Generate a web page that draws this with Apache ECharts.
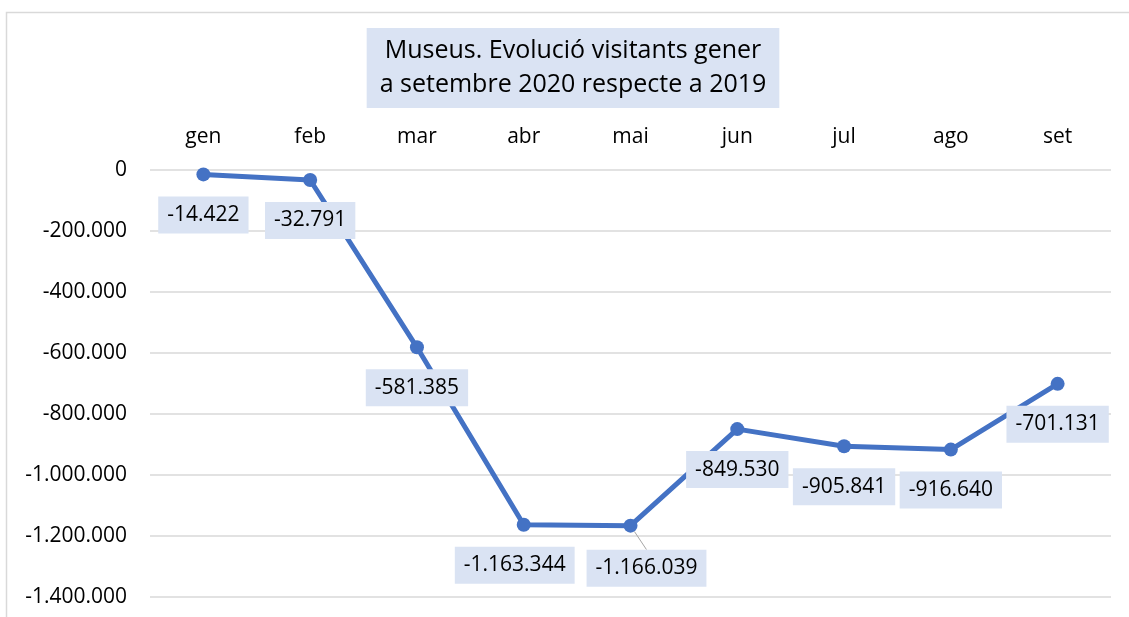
<!DOCTYPE html>
<html>
<head>
<meta charset="utf-8">
<script src="https://cdn.jsdelivr.net/npm/echarts@6/dist/echarts.min.js"></script>
<style>
  html, body { margin: 0; padding: 0; background: #fff; }
  #chart { width: 1129px; height: 617px; }
</style>
</head>
<body>
<div id="chart"></div>
<script>
// Months (Catalan abbreviations)
const months = ['gen', 'feb', 'mar', 'abr', 'mai', 'jun', 'jul', 'ago', 'set'];
// Difference in museum visitors, 2020 vs 2019
const visitorDiff = [-14422, -32791, -581385, -1163344, -1166039, -849530, -905841, -916640, -701131];
// Y axis range
const yMin = -1400000;
const yMax = 0;
const yStep = 200000;

const titleText = 'Museus. Evolució visitants gener\na setembre 2020 respecte a 2019';

const FONT = 'Open Sans';
const LABEL_BG = '#dae3f3';

// Catalan number format: dot as thousands separator
function fmt(v) {
  const s = Math.abs(Math.round(v)).toString().replace(/\B(?=(\d{3})+(?!\d))/g, '.');
  return (v < 0 ? '-' : '') + s;
}

const chart = echarts.init(document.getElementById('chart'), null, { renderer: 'canvas' });

const seriesData = visitorDiff.map((v, i) => {
  const item = { value: v };
  if (i === 4) {
    item.labelLine = { show: true, lineStyle: { color: '#a6a6a6', width: 1 } };
  }
  return item;
});

chart.setOption({
  animation: false,
  backgroundColor: '#fff',
  textStyle: { fontFamily: FONT },
  graphic: [
    {
      // chart frame
      type: 'rect',
      shape: { x: 6.5, y: 12.5, width: 1200, height: 700 },
      style: { fill: 'none', stroke: '#d9d9d9', lineWidth: 1.5 },
      silent: true,
      z: -10
    },
    {
      // title box, lines centred
      type: 'text',
      x: 573,
      y: 28,
      silent: true,
      z: 10,
      style: {
        text: titleText,
        fontFamily: FONT,
        fontSize: 25,
        lineHeight: 34,
        fill: '#000',
        align: 'center',
        verticalAlign: 'top',
        backgroundColor: LABEL_BG,
        padding: [6, 13, 6, 13]
      }
    }
  ],
  grid: { left: 150, right: 18, top: 170, bottom: 20 },
  xAxis: {
    type: 'category',
    position: 'top',
    data: months,
    boundaryGap: true,
    axisLine: { show: false },
    axisTick: { show: false },
    axisLabel: { fontFamily: FONT, fontSize: 21, color: '#000', margin: 22 }
  },
  yAxis: {
    type: 'value',
    min: yMin,
    max: yMax,
    interval: yStep,
    axisLine: { show: false },
    axisTick: { show: false },
    axisLabel: { fontFamily: FONT, fontSize: 21, color: '#000', margin: 23, formatter: fmt },
    splitLine: { lineStyle: { color: '#d9d9d9', width: 1.5 } }
  },
  series: [{
    type: 'line',
    data: seriesData,
    symbol: 'circle',
    symbolSize: 14,
    lineStyle: { color: '#4472c4', width: 5 },
    itemStyle: { color: '#4472c4' },
    label: {
      show: true,
      position: 'bottom',
      distance: 15,
      formatter: p => fmt(p.value),
      fontFamily: FONT,
      fontSize: 21,
      color: '#000',
      backgroundColor: LABEL_BG,
      padding: [8, 9, 8, 9]
    },
    labelLayout: function (params) {
      if (params.dataIndex === 3) return { dx: -9 };
      if (params.dataIndex === 4) return { dx: 16, dy: 2 };
      return {};
    }
  }]
});
</script>
</body>
</html>
